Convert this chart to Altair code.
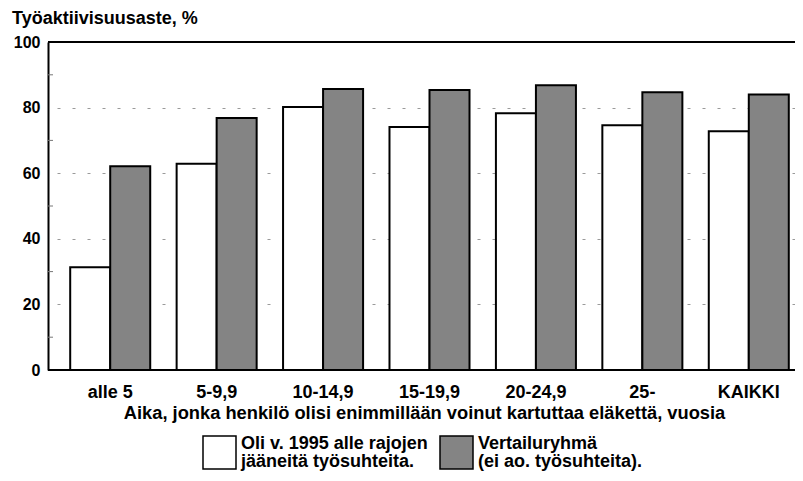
import altair as alt
import pandas as pd

categories = ["alle 5", "5-9,9", "10-14,9", "15-19,9", "20-24,9", "25-", "KAIKKI"]
oli = [31.3, 62.9, 80.2, 74.1, 78.3, 74.6, 72.8]
vertailu = [62.1, 76.8, 85.7, 85.4, 86.8, 84.7, 84.0]
series = ["Oli v. 1995 alle rajojen|jääneitä työsuhteita.", "Vertailuryhmä|(ei ao. työsuhteita)."]
y_ticks = [0, 20, 40, 60, 80, 100]
minor_ticks = [10, 30, 50, 70, 90]
frame_lines = [0, 100]

rows = []
for c, a, b in zip(categories, oli, vertailu):
    rows.append({"cat": c, "grp": series[0], "val": a})
    rows.append({"cat": c, "grp": series[1], "val": b})
df = pd.DataFrame(rows)

FONT = "Liberation Sans, Arial"
W, H = 747, 328

bars = alt.Chart(df).mark_bar(stroke="black", strokeWidth=2).encode(
    x=alt.X("cat:N", sort=categories,
            scale=alt.Scale(range=[9, 754], paddingInner=0, paddingOuter=0),
            axis=alt.Axis(title="Aika, jonka henkilö olisi enimmillään voinut kartuttaa eläkettä, vuosia",
                          labelAngle=0, domain=False, ticks=False, labelPadding=13,
                          labelFont=FONT, labelFontSize=18, labelFontWeight="bold", labelColor="black",
                          titleFont=FONT, titleFontSize=18.3, titleFontWeight="bold", titleColor="black",
                          titlePadding=3, titleX=376)),
    xOffset=alt.XOffset("grp:N", sort=series, scale=alt.Scale(paddingInner=0, paddingOuter=0.33)),
    y=alt.Y("val:Q", scale=alt.Scale(domain=[0, 100], nice=False),
            axis=alt.Axis(values=y_ticks, title=None, ticks=False, domain=True, domainColor="black",
                          domainWidth=2, labelPadding=8, labelFont=FONT, labelFontSize=16,
                          labelFontWeight="bold", labelColor="black",
                          grid=True, gridColor="#9a9a9a", gridDash=[3, 12], gridWidth=1)),
    fill=alt.Fill("grp:N", sort=series,
                  scale=alt.Scale(domain=series, range=["white", "#848484"]),
                  legend=alt.Legend(title=None, orient="none", legendX=154, legendY=393,
                                    direction="horizontal", symbolType="square", symbolSize=1089,
                                    symbolStrokeColor="black", symbolStrokeWidth=1.5,
                                    labelExpr="split(datum.label, '|')", labelBaseline="bottom",
                                    labelFont=FONT, labelFontSize=18, labelFontWeight="bold",
                                    labelColor="black", labelLimit=0, labelOffset=4,
                                    columnPadding=9)),
)

minor = alt.Chart(pd.DataFrame({"v": minor_ticks})).mark_rule(color="#777", strokeWidth=1).encode(
    y=alt.Y("v:Q"), x=alt.value(0), x2=alt.value(5))

frame = alt.Chart(pd.DataFrame({"v": frame_lines})).mark_rule(color="black", strokeWidth=2).encode(
    y=alt.Y("v:Q"), x=alt.value(0), x2=alt.value(W))

chart = alt.layer(bars, minor, frame).properties(
    width=W, height=H,
    autosize=alt.AutoSizeParams(type="none"),
    padding={"left": 40, "top": 34, "right": 0, "bottom": 103},
    title=alt.TitleParams("Työaktiivisuusaste, %", anchor="start", frame="group", dx=-36, offset=6,
                          font=FONT, fontSize=18, fontWeight="bold", color="black"),
).configure(style={"guide-label": {"lineHeight": 18}}, view={"strokeWidth": 0})

chart.save("out.html", embed_options={"renderer": "svg", "actions": False})
